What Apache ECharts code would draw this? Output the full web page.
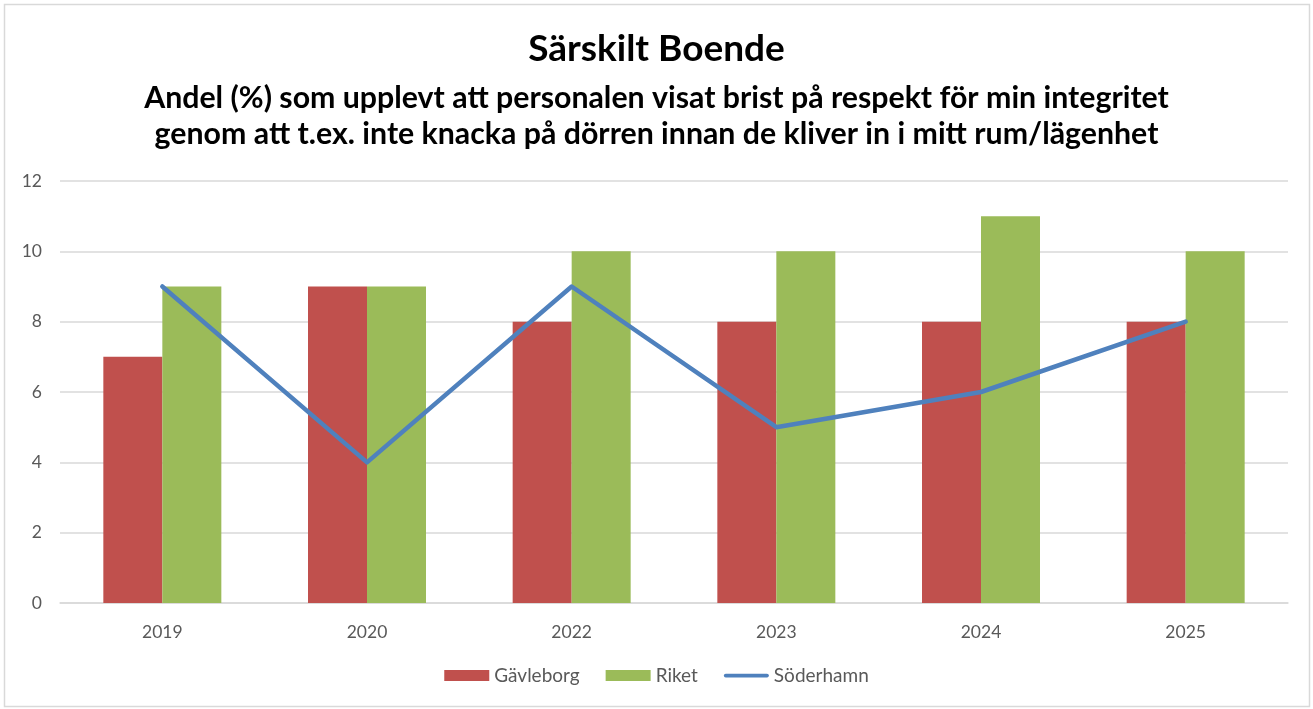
<!DOCTYPE html>
<html>
<head>
<meta charset="utf-8">
<script src="https://cdn.jsdelivr.net/npm/echarts@6/dist/echarts.min.js"></script>
<style>
  html, body { margin: 0; padding: 0; background: #fff; }
  #chart { width: 1313px; height: 709px; }
</style>
</head>
<body>
<div id="chart"></div>
<script>
// data
const years = ['2019', '2020', '2022', '2023', '2024', '2025'];
const gavleborg = [7, 9, 8, 8, 8, 8];
const riket = [9, 9, 10, 10, 11, 10];
const soderhamn = [9, 4, 9, 5, 6, 8];

const titleText = 'Särskilt Boende';
const subText = 'Andel (%) som upplevt att personalen visat brist på respekt för min integritet\ngenom att t.ex. inte knacka på dörren innan de kliver in i mitt rum/lägenhet';

const fontFamily = 'Lato, "Open Sans", sans-serif';

let chart = echarts.init(document.getElementById('chart'), null, { renderer: 'canvas' });

const option = {
    backgroundColor: '#fff',
    animation: false,
    textStyle: { fontFamily: fontFamily },
    graphic: [{
        type: 'rect',
        shape: { x: 4.5, y: 4.5, width: 1305, height: 702 },
        style: { fill: 'none', stroke: '#d9d9d9', lineWidth: 1.5 },
        silent: true
    }],
    title: [{
        text: titleText,
        left: 'center',
        top: 26,
        textStyle: { fontFamily: fontFamily, fontSize: 37, fontWeight: 'bold', color: '#000' }
    }, {
        text: subText,
        left: 'center',
        top: 75,
        textStyle: { fontFamily: fontFamily, fontSize: 30.3, fontWeight: 'bold', color: '#000', lineHeight: 36 }
    }],
    legend: {
        bottom: 19,
        left: 'center',
        itemWidth: 45,
        itemHeight: 11,
        itemGap: 26,
        textStyle: { fontFamily: fontFamily, fontSize: 19, color: '#595959' },
        data: [
            { name: 'Gävleborg', icon: 'rect' },
            { name: 'Riket', icon: 'rect' },
            { name: 'Söderhamn', icon: 'path://M2,0 H46 A2,2 0 0 1 46,4 H2 A2,2 0 0 1 2,0 Z' }
        ]
    },
    grid: { left: 60, right: 25, top: 181, bottom: 106, containLabel: false },
    xAxis: {
        type: 'category',
        data: years,
        axisLine: { lineStyle: { color: '#d9d9d9', width: 1.5 } },
        axisTick: { show: false },
        axisLabel: { color: '#595959', fontSize: 17.5, margin: 20, fontFamily: fontFamily }
    },
    yAxis: {
        type: 'value',
        min: 0,
        max: 12,
        interval: 2,
        axisLine: { show: false },
        axisTick: { show: false },
        axisLabel: { color: '#595959', fontSize: 17.5, margin: 18, fontFamily: fontFamily },
        splitLine: { lineStyle: { color: '#d9d9d9', width: 1.5 } }
    },
    series: [{
        name: 'Gävleborg',
        type: 'bar',
        data: gavleborg,
        barWidth: 59,
        barGap: '0%',
        itemStyle: { color: '#C0504D' }
    }, {
        name: 'Riket',
        type: 'bar',
        data: riket,
        barWidth: 59,
        barGap: '0%',
        itemStyle: { color: '#9BBB59' }
    }, {
        name: 'Söderhamn',
        type: 'line',
        data: soderhamn,
        symbol: 'none',
        lineStyle: { color: '#4F81BD', width: 4.5, cap: 'round', join: 'round' },
        itemStyle: { color: '#4F81BD' },
        z: 5
    }]
};

chart.setOption(option);
</script>
</body>
</html>
